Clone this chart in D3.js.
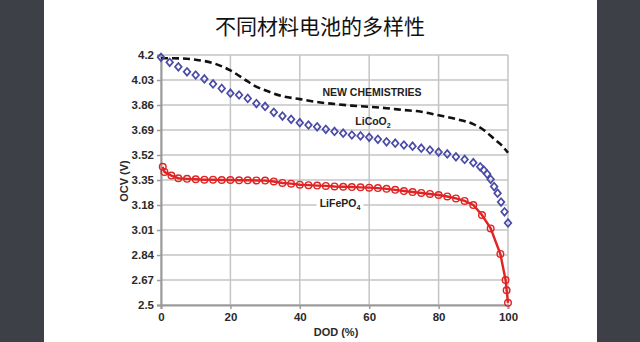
<!DOCTYPE html>
<html><head><meta charset="utf-8">
<script src="https://cdn.jsdelivr.net/npm/d3@7"></script>
<style>html,body{margin:0;padding:0;background:#3d4147;}svg{display:block;}</style>
</head><body>
<svg id="c" width="640" height="342"></svg>
<script>
const title = "不同材料电池的多样性";
const yTicks = [2.5, 2.67, 2.84, 3.01, 3.18, 3.35, 3.52, 3.69, 3.86, 4.03, 4.2];
const xTicks = [0, 20, 40, 60, 80, 100];

const newChemDOD = [0, 5, 10, 15, 20, 25, 27, 30, 35, 40, 45, 50, 55, 60, 65, 70, 75, 80, 85, 90, 93, 96, 98, 100];
const newChemOCV = [4.178, 4.177, 4.168, 4.145, 4.095, 4.02, 3.99, 3.96, 3.92, 3.9, 3.88, 3.867, 3.856, 3.848, 3.838, 3.826, 3.814, 3.79, 3.765, 3.73, 3.69, 3.63, 3.59, 3.535];

const licooDOD = [0, 2.5, 5, 7.5, 10, 12.5, 15, 17.5, 20, 22.5, 25, 27.5, 30, 32.5, 35, 37.5, 40, 42.5, 45, 47.5, 50, 52.5, 55, 57.5, 60, 62.5, 65, 67.5, 70, 72.5, 75, 77.5, 80, 82.5, 85, 87.5, 90, 92, 93, 94, 95, 96, 97, 98, 99, 100];
const licooOCV = [4.184, 4.15, 4.12, 4.086, 4.064, 4.037, 4.003, 3.973, 3.94, 3.928, 3.905, 3.87, 3.85, 3.81, 3.785, 3.763, 3.74, 3.724, 3.712, 3.695, 3.68, 3.668, 3.656, 3.65, 3.64, 3.627, 3.61, 3.6, 3.588, 3.58, 3.566, 3.554, 3.54, 3.527, 3.508, 3.49, 3.468, 3.44, 3.418, 3.39, 3.355, 3.305, 3.26, 3.2, 3.134, 3.058];

const lifeDOD = [0.5, 1, 3, 5, 7.5, 10, 12.5, 15, 17.5, 20, 22.5, 25, 27.5, 30, 32.5, 35, 37.5, 40, 42.5, 45, 47.5, 50, 52.5, 55, 57.5, 60, 62.5, 65, 67.5, 70, 72.5, 75, 77.5, 80, 82.5, 85, 87.5, 90, 92.5, 95, 97.8, 99.3, 99.6, 100];
const lifeOCV = [3.44, 3.405, 3.38, 3.362, 3.358, 3.355, 3.352, 3.352, 3.35, 3.35, 3.348, 3.348, 3.347, 3.346, 3.34, 3.33, 3.325, 3.318, 3.315, 3.312, 3.31, 3.306, 3.304, 3.302, 3.3, 3.298, 3.295, 3.29, 3.283, 3.275, 3.268, 3.262, 3.255, 3.248, 3.238, 3.225, 3.208, 3.18, 3.112, 3.021, 2.847, 2.67, 2.6, 2.515];

const svg = d3.select("#c");
svg.append("rect").attr("x", 0).attr("y", 0).attr("width", 640).attr("height", 342).attr("fill", "#3d4147");
svg.append("rect").attr("x", 44).attr("y", 0).attr("width", 553).attr("height", 342).attr("fill", "#ffffff");

svg.append("text").attr("x", 320).attr("y", 25).attr("text-anchor", "middle")
  .attr("dominant-baseline", "central")
  .style("font-family", "'Noto Sans CJK SC', sans-serif").style("font-size", "21px").attr("fill", "#111")
  .text(title);

const x = d3.scaleLinear().domain([0, 100]).range([161, 508]);
const y = d3.scaleLinear().domain([2.5, 4.2]).range([305, 55]);

const g = svg.append("g");
g.append("g").selectAll("line").data(yTicks).join("line")
  .attr("x1", x(0)).attr("x2", x(100)).attr("y1", d => y(d)).attr("y2", d => y(d))
  .attr("stroke", "#c4c4c4").attr("stroke-width", 1.5);
g.append("g").selectAll("line").data(xTicks).join("line")
  .attr("y1", y(2.5)).attr("y2", y(4.2)).attr("x1", d => x(d)).attr("x2", d => x(d))
  .attr("stroke", "#c4c4c4").attr("stroke-width", 1.5);

const fontAx = "'Liberation Sans', Arial, sans-serif";
const yAxis = g.append("g").attr("transform", `translate(${x(0)},0)`)
  .call(d3.axisLeft(y).tickValues(yTicks).tickFormat(d => String(d)).tickSize(4).tickPadding(3));
const xAxis = g.append("g").attr("transform", `translate(0,${y(2.5)})`)
  .call(d3.axisBottom(x).tickValues(xTicks).tickSize(4).tickPadding(4));
[yAxis, xAxis].forEach(a => {
  a.select(".domain").attr("stroke", "#9a9a9a").attr("stroke-width", 2);
  a.selectAll(".tick line").attr("stroke", "#9a9a9a").attr("stroke-width", 1.5);
  a.selectAll(".tick text").style("font-family", fontAx).style("font-size", "11.5px")
    .style("font-weight", "bold").attr("fill", "#2a2a2a");
});

svg.append("text").attr("x", 336).attr("y", 336).attr("text-anchor", "middle")
  .style("font-family", fontAx).style("font-size", "11px").style("font-weight", "bold").attr("fill", "#2a2a2a")
  .text("DOD (%)");
svg.append("text").attr("transform", "translate(128,181) rotate(-90)").attr("text-anchor", "middle")
  .style("font-family", fontAx).style("font-size", "11px").style("font-weight", "bold").attr("fill", "#2a2a2a")
  .text("OCV (V)");

const line = d3.line().curve(d3.curveMonotoneX);
g.append("path").datum(newChemDOD.map((d, i) => [x(d), y(newChemOCV[i])]))
  .attr("d", line).attr("fill", "none").attr("stroke", "#111").attr("stroke-width", 2.6)
  .attr("stroke-dasharray", "7,4");

const sq = d3.symbol().type(d3.symbolSquare).size(22);
g.append("g").selectAll("path").data(licooDOD).join("path")
  .attr("transform", (d, i) => `translate(${x(d)},${y(licooOCV[i])}) scale(1,1.15) rotate(45)`)
  .attr("d", sq).attr("fill", "none").attr("stroke", "#4a4aa8").attr("stroke-width", 1.6);

g.append("path").datum(lifeDOD.map((d, i) => [x(d), y(lifeOCV[i])]))
  .attr("d", d3.line()).attr("fill", "none").attr("stroke", "#e02424").attr("stroke-width", 2.4);
g.append("g").selectAll("circle").data(lifeDOD).join("circle")
  .attr("cx", d => x(d)).attr("cy", (d, i) => y(lifeOCV[i])).attr("r", 3.3)
  .attr("fill", "none").attr("stroke", "#e02424").attr("stroke-width", 1.4);

const lab = (tx, ty, parts, bg) => {
  const t = svg.append("text").attr("x", tx).attr("y", ty).attr("text-anchor", "middle")
    .style("font-family", fontAx).style("font-size", "10.5px").style("font-weight", "bold").attr("fill", "#222");
  parts.forEach(p => {
    const s = t.append("tspan").text(p[0]);
    if (p[1]) s.attr("dy", 3).style("font-size", "7px");
  });
  if (bg) {
    const b = t.node().getBBox();
    svg.insert("rect", () => t.node()).attr("x", b.x - 3).attr("y", b.y).attr("width", b.width + 6)
      .attr("height", b.height).attr("fill", "#fff");
  }
};
lab(372, 96, [["NEW CHEMISTRIES"]], false);
lab(373, 125, [["LiCoO"], ["2", true]], false);
lab(340, 207, [["LiFePO"], ["4", true]], true);
</script>
</body></html>
